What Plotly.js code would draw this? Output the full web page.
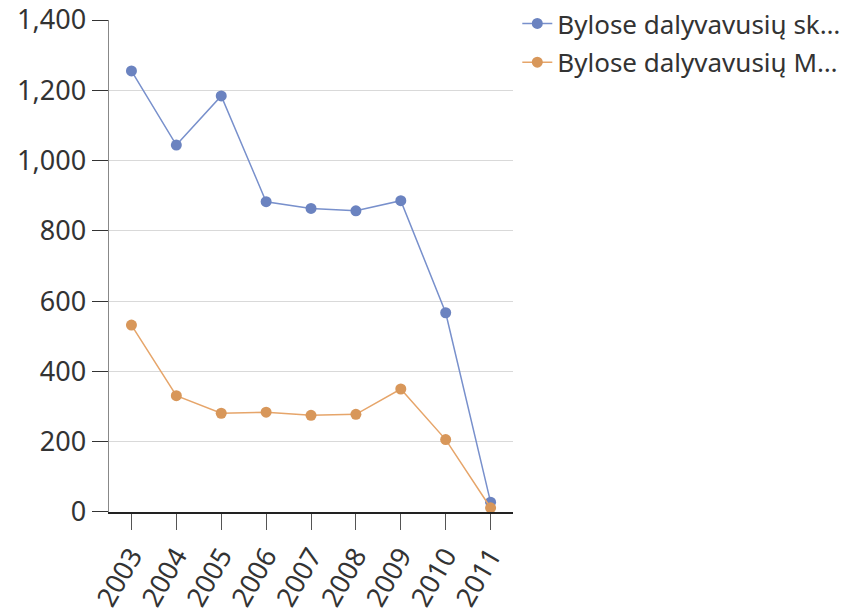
<!DOCTYPE html>
<html>
<head>
<meta charset="utf-8">
<script src="https://cdn.plot.ly/plotly-3.0.1.min.js"></script>
<style>
  html, body { margin: 0; padding: 0; background: #fff; }
  #chart { width: 846px; height: 612px; }
</style>
</head>
<body>
<div id="chart"></div>
<script>
const years = ['2003', '2004', '2005', '2006', '2007', '2008', '2009', '2010', '2011'];
const seriesNames = ['Bylose dalyvavusių sk…', 'Bylose dalyvavusių M…'];
const totalParticipants = [1255, 1044, 1184, 883, 864, 857, 886, 567, 28];
const mParticipants = [532, 331, 281, 284, 275, 278, 350, 206, 12];
const yTicks = [0, 200, 400, 600, 800, 1000, 1200, 1400];

const traces = [
    {
        x: years,
        y: totalParticipants,
        type: 'scatter',
        mode: 'lines+markers',
        name: seriesNames[0],
        legendgroup: 'a',
        line: { color: '#7890cc', width: 1.5 },
        marker: { color: '#6b83c0', size: 11 }
    },
    {
        x: years,
        y: mParticipants,
        type: 'scatter',
        mode: 'lines+markers',
        name: seriesNames[1],
        legendgroup: 'b',
        line: { color: '#e6a56a', width: 1.5 },
        marker: { color: '#d8975a', size: 11 }
    }
];

// plot area: x 109..513, y 20..512
const layout = {
    width: 846,
    height: 612,
    paper_bgcolor: '#fff',
    plot_bgcolor: '#fff',
    font: { family: 'Noto Sans, sans-serif', color: '#333', size: 27 },
    margin: { l: 109, r: 0, t: 0, b: 100 },
    showlegend: true,
    legend: {
        x: 0.554, y: 1.0, xanchor: 'left', yanchor: 'top',
        font: { size: 26, color: '#333' },
        itemwidth: 30,
        traceorder: 'grouped',
        tracegroupgap: 2
    },
    xaxis: {
        type: 'category',
        range: [-0.5, 8.5],
        domain: [0, 0.5482],
        automargin: false,
        showgrid: false,
        showline: true,
        linecolor: '#222',
        linewidth: 1.5,
        ticks: 'outside',
        ticklen: 16,
        tickcolor: '#555',
        tickangle: -60,
        tickfont: { size: 27, color: '#333' },
        zeroline: false
    },
    yaxis: {
        range: [0, 1400],
        domain: [0, 0.9609],
        automargin: false,
        tickvals: yTicks,
        tickformat: ',d',
        showgrid: true,
        gridcolor: '#d9d9d9',
        showline: true,
        linecolor: '#888',
        linewidth: 1.5,
        ticks: 'outside',
        ticklen: 16,
        tickcolor: '#333',
        tickfont: { size: 27, color: '#333' },
        zeroline: false
    }
};

Plotly.newPlot('chart', traces, layout, { displayModeBar: false, staticPlot: true });
</script>
</body>
</html>
